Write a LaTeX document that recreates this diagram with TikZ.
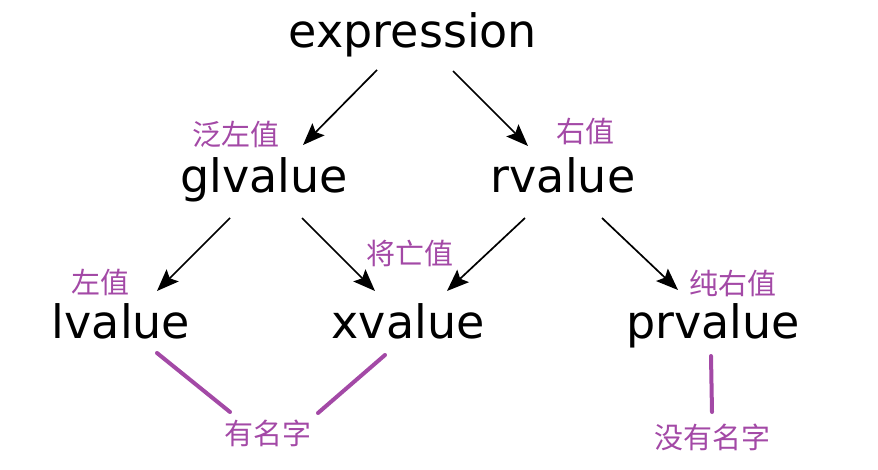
\documentclass[tikz,border=0pt]{standalone}
\usepackage{fontspec}
\setmainfont{DejaVu Sans}
\newfontfamily\cjk{Noto Sans CJK SC}
\usetikzlibrary{arrows.meta}
\definecolor{zhpurple}{RGB}{163,73,166}
\tikzset{
  term/.style={inner sep=0pt, anchor=base, font=\fontsize{46}{50}\selectfont, text=black},
  note/.style={inner sep=0pt, font=\cjk\fontsize{29}{32}\selectfont, text=zhpurple},
  bigtip/.tip={Stealth[length=22pt,width=17pt,inset=4pt]},
  arr/.style={line width=1.7pt, -bigtip},
  link/.style={line width=4pt, draw=zhpurple, line cap=round},
}
\begin{document}
\begin{tikzpicture}[x=1pt,y=-1pt]
\useasboundingbox (0,0) rectangle (878,470);
% terms
\node[term] (expression) at (413,48) {expression};
\node[term] (glvalue) at (264,193) {glvalue};
\node[term] (rvalue) at (563,193) {rvalue};
\node[term] (lvalue) at (121,338) {lvalue};
\node[term] (xvalue) at (408,338) {xvalue};
\node[term] (prvalue) at (713,338) {prvalue};
% notes
\node[note] (nglv) at (236,134) {泛左值};
\node[note] (nrv) at (585,131) {右值};
\node[note] (nxv) at (410,253) {将亡值};
\node[note] (nlv) at (100,282) {左值};
\node[note] (nprv) at (733,283) {纯右值};
\node[note] (ming) at (268,433) {有名字};
\node[note] (wuming) at (712,437) {没有名字};
% arrows
\draw[arr] ([shift={(-36,22)}]expression.base) -- ([shift={(39,-48)}]glvalue.base);
\draw[arr] ([shift={(40,23)}]expression.base) -- ([shift={(-35,-47)}]rvalue.base);
\draw[arr] ([shift={(-34,25)}]glvalue.base) -- ([shift={(36,-47)}]lvalue.base);
\draw[arr] ([shift={(38,25)}]glvalue.base) -- ([shift={(-33,-47)}]xvalue.base);
\draw[arr] ([shift={(-38,25)}]rvalue.base) -- ([shift={(39,-47)}]xvalue.base);
\draw[arr] ([shift={(39,25)}]rvalue.base) -- ([shift={(-35,-48)}]prvalue.base);
% purple links
\draw[link] ([shift={(36,15)}]lvalue.base) -- ([shift={(-38,-21)}]ming.center);
\draw[link] ([shift={(-23,17)}]xvalue.base) -- ([shift={(50,-20)}]ming.center);
\draw[link] ([shift={(-2,18)}]prvalue.base) -- ([shift={(0,-25)}]wuming.center);
\end{tikzpicture}
\end{document}
